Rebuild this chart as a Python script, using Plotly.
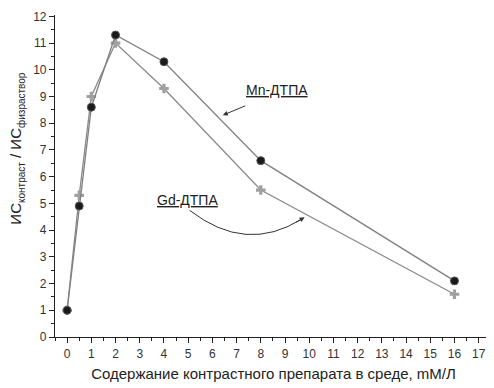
import plotly.graph_objects as go

conc = [0, 0.5, 1, 2, 4, 8, 16]
mn_dtpa = [1.0, 4.9, 8.6, 11.3, 10.3, 6.6, 2.1]
gd_dtpa = [1.0, 5.3, 9.0, 11.0, 9.3, 5.5, 1.6]
x_ticks = list(range(0, 18))
y_ticks = list(range(0, 13))

FONT = "Liberation Sans, Arial, sans-serif"
fig = go.Figure()
fig.add_trace(go.Scatter(x=conc, y=gd_dtpa, mode="lines+markers", name="Gd-ДТПА",
                         line=dict(color="#8a8a8a", width=1.3),
                         marker=dict(symbol="cross", size=8, color="#a0a0a0",
                                     line=dict(width=0))))
fig.add_trace(go.Scatter(x=conc, y=mn_dtpa, mode="lines+markers", name="Mn-ДТПА",
                         line=dict(color="#808080", width=1.3),
                         marker=dict(symbol="circle", size=8, color="#1a1a1a",
                                     line=dict(width=1, color="#555"))))

axis_common = dict(showgrid=False, zeroline=False, showline=True, linecolor="#222",
                   linewidth=1.2, ticks="outside", ticklen=5, tickwidth=1.2, tickcolor="#222",
                   ticklabeloverflow="allow",
                   tickfont=dict(family=FONT, size=12, color="#333"))
fig.update_xaxes(range=[-0.5, 17.55], tickvals=x_ticks, **axis_common,
                 minor=dict(dtick=0.5, ticks="outside", ticklen=3, tickcolor="#222", tickwidth=1),
                 title=dict(text="Содержание контрастного препарата в среде, mM/Л",
                            font=dict(family=FONT, size=15, color="#222"), standoff=8))
fig.update_yaxes(range=[0, 12.05], tickvals=y_ticks, **axis_common,
                 minor=dict(dtick=0.5, ticks="outside", ticklen=3, tickcolor="#222", tickwidth=1))

sub = "<sub><span style='font-size:10px'>{}</span></sub>"
fig.add_annotation(xref="paper", yref="paper", x=0, y=0.585, xshift=-38,
                   xanchor="center", yanchor="middle", textangle=-90, showarrow=False,
                   text="ИС" + sub.format("контраст") + " / ИС" + sub.format("физраствор"),
                   font=dict(family=FONT, size=15, color="#222"))

fig.add_annotation(x=8.66, y=9.26, text="<u>Mn-ДТПА</u>", showarrow=False,
                   font=dict(family=FONT, size=14, color="#222"))
fig.add_annotation(x=6.43, y=8.30, ax=24, ay=-10, text="", showarrow=True,
                   arrowhead=2, arrowsize=1, arrowwidth=1, arrowcolor="#333")
fig.add_annotation(x=4.98, y=5.11, text="<u>Gd-ДТПА</u>", showarrow=False,
                   font=dict(family=FONT, size=14, color="#222"))
fig.add_shape(type="path", xref="x", yref="y",
              path="M 5.06,4.74 Q 7.4,3.1 9.7,4.42",
              line=dict(color="#333", width=1))
fig.add_annotation(x=9.81, y=4.48, ax=-10, ay=6, text="", showarrow=True,
                   arrowhead=2, arrowsize=1, arrowwidth=1, arrowcolor="#333")

# page body has an 8px margin: shrink figure to keep the plot area where the reference has it
fig.update_layout(width=486, height=380, showlegend=False,
                  plot_bgcolor="white", paper_bgcolor="white",
                  margin=dict(l=47, r=2, t=4, b=51))
fig.write_html("out.html")
